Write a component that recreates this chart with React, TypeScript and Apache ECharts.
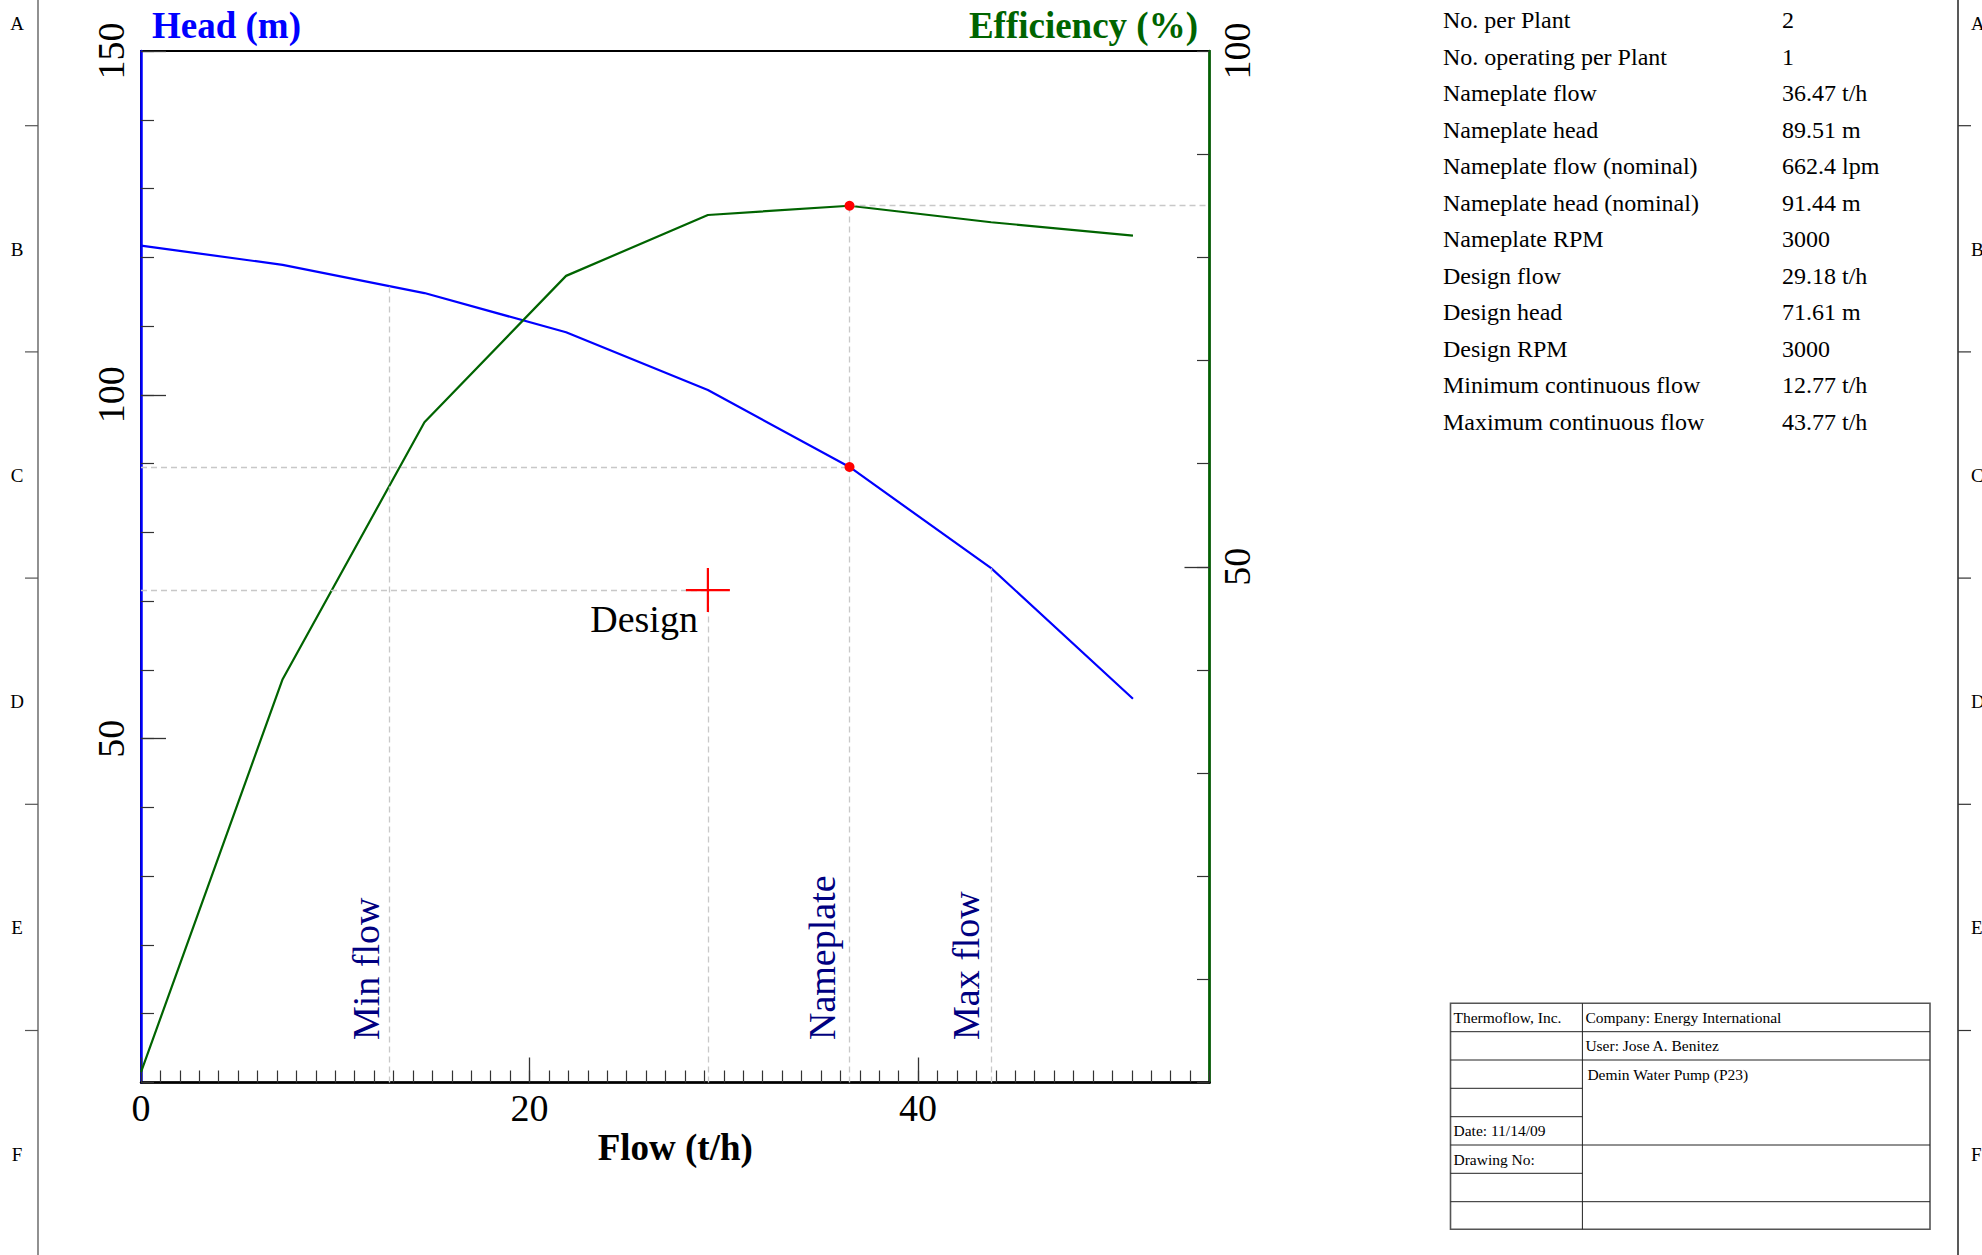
import React, { useEffect, useRef } from "react";
import * as echarts from "echarts";

// ---------- data ----------
const flow = [0, 7.29, 14.59, 21.88, 29.18, 36.47, 43.76, 51.06];
const head = [121.7, 118.9, 114.8, 109.1, 100.7, 89.51, 74.8, 55.8];
const efficiency = [1.0, 39.1, 64.0, 78.2, 84.1, 85.0, 83.4, 82.1];

const nameplateFlow = 36.47;
const nameplateHead = 89.51;
const nameplateEff = 85.0;
const designFlow = 29.18;
const designHead = 71.61;
const minFlow = 12.77;
const minFlowHead = 115.7;
const maxFlow = 43.77;
const maxFlowHead = 74.8;

const xMax = 55;
const headMax = 150;
const effMax = 100;
const xTickLabels = [0, 20, 40];
const headTickLabels = [50, 100, 150];
const effTickLabels = [50, 100];
const effMajorTicks = [50];

const specLabels = [
  "No. per Plant",
  "No. operating per Plant",
  "Nameplate flow",
  "Nameplate head",
  "Nameplate flow (nominal)",
  "Nameplate head (nominal)",
  "Nameplate RPM",
  "Design flow",
  "Design head",
  "Design RPM",
  "Minimum continuous flow",
  "Maximum continuous flow",
];
const specValues = [
  "2",
  "1",
  "36.47 t/h",
  "89.51 m",
  "662.4 lpm",
  "91.44 m",
  "3000",
  "29.18 t/h",
  "71.61 m",
  "3000",
  "12.77 t/h",
  "43.77 t/h",
];
const frameLetters = ["A", "B", "C", "D", "E", "F"];
const titleLeft = ["Thermoflow, Inc.", "", "", "", "Date: 11/14/09", "Drawing No:", "", ""];
const titleRight = ["Company: Energy International", "User: Jose A. Benitez", "Demin Water Pump (P23)"];

// ---------- styles ----------
const FONT = "'Liberation Serif', 'Times New Roman', serif";
const NAVY = "#000080";
const BLUE = "#0000ff";
const GREEN = "#006400";
const TICK = "#333333";
const dashStyle = { type: [6, 4] as any, color: "#c8c8c8", width: 1.3 };

function buildGraphics(): any[] {
  const g: any[] = [];
  const txt = (text: string, x: number, y: number, size: number, align = "left", color = "#000", weight = "normal") => ({
    type: "text",
    silent: true,
    style: {
      text,
      x,
      y,
      fill: color,
      font: `${weight} ${size}px ${FONT}`,
      align,
      textAlign: align,
      verticalAlign: "middle",
      textVerticalAlign: "middle",
    },
  });
  const ln = (x1: number, y1: number, x2: number, y2: number, stroke = "#333", lw = 1) => ({
    type: "line",
    silent: true,
    shape: { x1, y1, x2, y2 },
    style: { stroke, lineWidth: lw },
  });

  // axis titles
  g.push(txt("Head (m)", 152, 25, 37, "left", BLUE, "bold"));
  g.push(txt("Efficiency (%)", 1198, 25, 37, "right", GREEN, "bold"));

  // drawing frame
  g.push(ln(38, 0, 38, 1255, "#555", 1.3));
  g.push(ln(1958, 0, 1958, 1255, "#222", 1.5));
  frameLetters.forEach((L, i) => {
    const y = 23 + i * 226.2;
    g.push(txt(L, 17, y, 19, "center"));
    g.push(txt(L, 1971, y, 19, "left"));
  });
  for (let i = 0; i < frameLetters.length - 1; i++) {
    const y = 125.7 + i * 226.2;
    g.push(ln(25, y, 38, y, "#555", 1.2));
    g.push(ln(1958, y, 1971, y, "#333", 1.2));
  }

  // spec table
  specLabels.forEach((s, i) => {
    const y = 20.1 + i * 36.5;
    g.push(txt(s, 1443, y, 24));
    g.push(txt(specValues[i], 1782, y, 24));
  });

  // title block
  const L = 1450.5, M = 1582.4, R = 1930;
  const rows = [1003.3, 1031.7, 1060, 1088.3, 1116.7, 1145, 1173.3, 1201.7, 1229.3];
  g.push({
    type: "rect",
    silent: true,
    shape: { x: L, y: rows[0], width: R - L, height: rows[8] - rows[0] },
    style: { fill: "none", stroke: "#555", lineWidth: 1.6 },
  });
  g.push(ln(M, rows[0], M, rows[8], "#222", 1));
  [1, 2, 5, 7].forEach((r) => g.push(ln(L, rows[r], R, rows[r], "#222", 1)));
  [3, 4, 6].forEach((r) => g.push(ln(L, rows[r], M, rows[r], "#222", 1)));
  titleLeft.forEach((t, i) => {
    if (t) g.push(txt(t, L + 3, (rows[i] + rows[i + 1]) / 2, 15.5));
  });
  titleRight.forEach((t, i) => {
    g.push(txt(t, M + 3 + (i === 2 ? 2 : 0), (rows[i] + rows[i + 1]) / 2, 15.5));
  });
  return g;
}

const vLabel = (text: string, gap: number) => ({
  show: true,
  position: "insideStartTop",
  distance: [42.5, gap],
  formatter: text,
  color: NAVY,
  fontSize: 38,
  fontFamily: FONT,
});

const option: any = {
  animation: false,
  backgroundColor: "#ffffff",
  grid: {
    left: 141,
    top: 51,
    right: 772.5,
    bottom: 172.5,
    show: true,
    borderColor: "#000",
    borderWidth: 2,
    containLabel: false,
    outerBoundsMode: "none",
  },
  xAxis: [
    {
      type: "value",
      position: "bottom",
      min: 0,
      max: xMax,
      interval: 1,
      axisLine: { show: true, onZero: false, lineStyle: { color: "#000", width: 2.5 } },
      axisTick: { show: true, inside: true, length: 12, lineStyle: { color: TICK, width: 1.2 } },
      axisLabel: { customValues: xTickLabels, margin: 6, fontSize: 38, fontFamily: FONT, color: "#000" },
      splitLine: { show: false },
      name: "Flow (t/h)",
      nameLocation: "middle",
      nameGap: 46,
      nameMoveOverlap: false,
      nameTextStyle: { fontSize: 37, fontWeight: "bold", fontFamily: FONT, color: "#000" },
    },
    {
      type: "value",
      position: "bottom",
      min: 0,
      max: xMax,
      axisLine: { show: false, onZero: false },
      axisTick: { show: true, inside: true, length: 25, customValues: xTickLabels, lineStyle: { color: TICK, width: 1.3 } },
      axisLabel: { show: false },
      splitLine: { show: false },
    },
  ],
  yAxis: [
    {
      type: "value",
      position: "left",
      min: 0,
      max: headMax,
      interval: 10,
      axisLine: { show: true, onZero: false, lineStyle: { color: BLUE, width: 2.5 } },
      axisTick: { show: true, inside: true, length: 13, lineStyle: { color: TICK, width: 1.2 } },
      axisLabel: { customValues: headTickLabels, rotate: 90, margin: 11, fontSize: 38, fontFamily: FONT, color: "#000" },
      splitLine: { show: false },
    },
    {
      type: "value",
      position: "right",
      min: 0,
      max: effMax,
      interval: 10,
      axisLine: { show: true, onZero: false, lineStyle: { color: GREEN, width: 2.5 } },
      axisTick: { show: true, inside: true, length: 12.5, lineStyle: { color: TICK, width: 1.2 } },
      axisLabel: { customValues: effTickLabels, rotate: 90, margin: 8, fontSize: 38, fontFamily: FONT, color: "#000" },
      splitLine: { show: false },
    },
    {
      type: "value",
      position: "left",
      min: 0,
      max: headMax,
      axisLine: { show: false, onZero: false },
      axisTick: { show: true, inside: true, length: 25, customValues: headTickLabels, lineStyle: { color: TICK, width: 1.3 } },
      axisLabel: { show: false },
      splitLine: { show: false },
    },
    {
      type: "value",
      position: "right",
      min: 0,
      max: effMax,
      axisLine: { show: false, onZero: false },
      axisTick: { show: true, inside: true, length: 25, customValues: effMajorTicks, lineStyle: { color: TICK, width: 1.3 } },
      axisLabel: { show: false },
      splitLine: { show: false },
    },
  ],
  series: [
    {
      name: "Head",
      type: "line",
      xAxisIndex: 0,
      yAxisIndex: 0,
      data: flow.map((x, i) => [x, head[i]]),
      symbol: "none",
      lineStyle: { color: BLUE, width: 2.2 },
      z: 3,
      markLine: {
        silent: true,
        symbol: ["none", "none"],
        lineStyle: dashStyle,
        label: { show: false },
        data: [
          [{ coord: [minFlow, 0], label: vLabel("Min flow", 4) }, { coord: [minFlow, minFlowHead] }],
          [{ coord: [maxFlow, 0], label: vLabel("Max flow", 6) }, { coord: [maxFlow, maxFlowHead] }],
          [{ coord: [0, designHead] }, { coord: [designFlow, designHead] }],
          [{ coord: [designFlow, 0] }, { coord: [designFlow, designHead] }],
          [{ coord: [0, nameplateHead] }, { coord: [nameplateFlow, nameplateHead] }],
        ],
      },
    },
    {
      name: "Efficiency",
      type: "line",
      xAxisIndex: 0,
      yAxisIndex: 1,
      data: flow.map((x, i) => [x, efficiency[i]]),
      symbol: "none",
      lineStyle: { color: GREEN, width: 2.2 },
      z: 3,
      markLine: {
        silent: true,
        symbol: ["none", "none"],
        lineStyle: dashStyle,
        label: { show: false },
        data: [
          [{ coord: [nameplateFlow, 0], label: vLabel("Nameplate", 9) }, { coord: [nameplateFlow, nameplateEff] }],
          [{ coord: [nameplateFlow, nameplateEff] }, { coord: [xMax, nameplateEff] }],
        ],
      },
    },
    {
      name: "Nameplate head",
      type: "scatter",
      xAxisIndex: 0,
      yAxisIndex: 0,
      data: [[nameplateFlow, nameplateHead]],
      symbolSize: 10,
      itemStyle: { color: "#ff0000", opacity: 1 },
      z: 5,
    },
    {
      name: "Nameplate efficiency",
      type: "scatter",
      xAxisIndex: 0,
      yAxisIndex: 1,
      data: [[nameplateFlow, nameplateEff]],
      symbolSize: 10,
      itemStyle: { color: "#ff0000", opacity: 1 },
      z: 5,
    },
    {
      name: "Design",
      type: "scatter",
      xAxisIndex: 0,
      yAxisIndex: 0,
      data: [[designFlow, designHead]],
      symbol: "path://M-1,-20L1,-20L1,-1L20,-1L20,1L1,1L1,20L-1,20L-1,1L-20,1L-20,-1L-1,-1Z",
      symbolSize: 44,
      itemStyle: { color: "#ff0000", opacity: 1 },
      z: 5,
      label: {
        show: true,
        formatter: "Design",
        position: [12, 51],
        align: "right",
        verticalAlign: "middle",
        fontSize: 38,
        fontFamily: FONT,
        color: "#000000",
        opacity: 1,
      },
    },
  ],
  graphic: buildGraphics(),
};

export default function App() {
  const ref = useRef<HTMLDivElement>(null);
  useEffect(() => {
    if (!ref.current) return;
    const chart = echarts.init(ref.current, undefined, { renderer: "svg" });
    chart.setOption(option);
    return () => chart.dispose();
  }, []);
  return (
    <div
      ref={ref}
      style={{ position: "fixed", left: 0, top: 0, width: 1982, height: 1255, background: "#ffffff" }}
    />
  );
}
